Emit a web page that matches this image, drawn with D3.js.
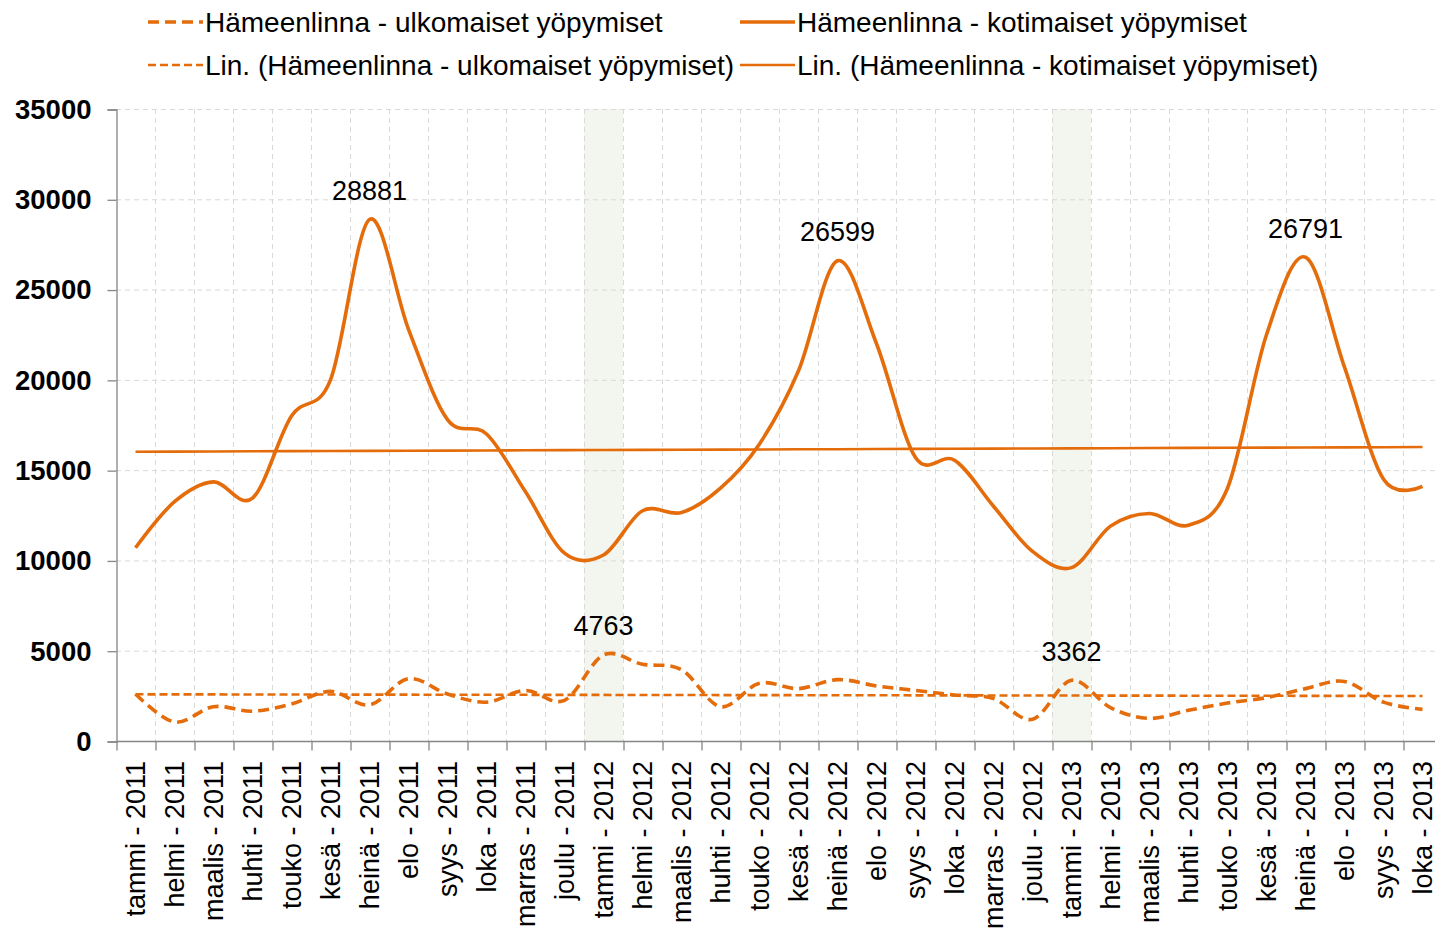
<!DOCTYPE html>
<html>
<head>
<meta charset="utf-8">
<script src="https://cdn.jsdelivr.net/npm/d3@7"></script>
<style>
  body { margin: 0; background: #fff; }
  text { font-family: "Liberation Sans", Arial, sans-serif; }
</style>
</head>
<body>
<section></section>
<script>
"use strict";

//Chart data
const months = ["tammi", "helmi", "maalis", "huhti", "touko", "kesä", "heinä", "elo", "syys", "loka", "marras", "joulu"];
const categories = [
  ...months.map((m) => `${m} - 2011`),
  ...months.map((m) => `${m} - 2012`),
  ...months.slice(0, 10).map((m) => `${m} - 2013`),
];
const domestic = [
  10700, 13250, 14350, 13450, 18000, 20000, 28881, 22800, 17800, 17000, 13800, 10400,
  10300, 12750, 12650, 14000, 16450, 20500, 26599, 22000, 15700, 15550, 13000, 10500,
  9600, 11900, 12600, 11950, 14000, 22500, 26791, 20700, 14500, 14100,
];
const foreign = [
  2600, 1050, 1900, 1650, 2050, 2750, 2000, 3450, 2600, 2150, 2800, 2250,
  4763, 4250, 3950, 1900, 3200, 2900, 3400, 3050, 2800, 2550, 2350, 1200,
  3362, 1850, 1250, 1700, 2100, 2400, 2900, 3300, 2150, 1750,
];
const labelDomestic = [6, 18, 30];
const labelForeign = [12, 24];
const shaded = [12, 24];
const yTicks = [0, 5000, 10000, 15000, 20000, 25000, 30000, 35000];
const legendNames = [
  "Hämeenlinna - ulkomaiset yöpymiset",
  "Hämeenlinna - kotimaiset yöpymiset",
  "Lin. (Hämeenlinna - ulkomaiset yöpymiset)",
  "Lin. (Hämeenlinna - kotimaiset yöpymiset)",
];

//Dimensions
const w = 1435;
const h = 933;
const color = "#E46C0A";
const plotLeft = 116;
const plotTop = 109;
const plotBottom = 741;
const band = 39.0;

const svg = d3.select("section").append("svg").attr("width", w).attr("height", h);
svg.append("rect").attr("width", w).attr("height", h).attr("fill", "#fff");

//Scales
const xScale = d3
  .scaleBand()
  .domain(categories)
  .range([plotLeft, plotLeft + band * categories.length])
  .padding(0);
const xEdge = d3.scaleLinear().domain([0, categories.length]).range([plotLeft, plotLeft + band * categories.length]);
const yScale = d3.scaleLinear().domain([0, 35000]).range([plotBottom, plotTop]);
const cx = (i) => xScale(categories[i]) + xScale.bandwidth() / 2;

//Shaded months
svg
  .append("g")
  .selectAll("rect")
  .data(shaded)
  .enter()
  .append("rect")
  .attr("x", (d) => xEdge(d))
  .attr("width", (d) => xEdge(d + 1) - xEdge(d))
  .attr("y", plotTop)
  .attr("height", plotBottom - plotTop)
  .attr("fill", "#f3f6ee");

//Grid lines
const grid = svg.append("g").attr("stroke", "#d9d9d9").attr("stroke-dasharray", "5,4").attr("stroke-width", 1);
grid
  .selectAll(".h")
  .data(yTicks.slice(1))
  .enter()
  .append("line")
  .attr("x1", plotLeft)
  .attr("x2", w)
  .attr("y1", (d) => yScale(d) + 0.5)
  .attr("y2", (d) => yScale(d) + 0.5);
grid
  .selectAll(".v")
  .data(d3.range(1, categories.length + 1))
  .enter()
  .append("line")
  .attr("x1", (d) => Math.round(xEdge(d)) + 0.5)
  .attr("x2", (d) => Math.round(xEdge(d)) + 0.5)
  .attr("y1", plotTop)
  .attr("y2", plotBottom);

//y Axis
const yAxisG = svg
  .append("g")
  .attr("transform", `translate(${plotLeft + 0.5}, 0.5)`)
  .call(d3.axisLeft(yScale).tickValues(yTicks).tickSize(9).tickPadding(16).tickFormat(d3.format("d")));
yAxisG.selectAll("line, path").attr("stroke", "#868686").attr("stroke-width", 1.3);
yAxisG
  .selectAll("text")
  .attr("font-size", 27.5)
  .attr("font-weight", "bold")
  .attr("fill", "#000")
  .attr("font-family", "Liberation Sans, Arial, sans-serif");

//x Axis boundary ticks
const xTickG = svg
  .append("g")
  .attr("transform", `translate(0.5, ${plotBottom + 0.5})`)
  .call(d3.axisBottom(xEdge).tickValues(d3.range(categories.length + 1)).tickSize(9).tickFormat(""));
xTickG.select(".domain").attr("d", `M${plotLeft},0H${w}`);
xTickG.selectAll("line, path").attr("stroke", "#868686").attr("stroke-width", 1.3);

//x Axis labels
svg
  .append("g")
  .selectAll("text")
  .data(categories)
  .enter()
  .append("text")
  .attr("transform", (d, i) => `translate(${cx(i)}, 761) rotate(-90)`)
  .attr("text-anchor", "end")
  .attr("dy", "0.35em")
  .attr("font-size", 27)
  .attr("fill", "#000")
  .text((d) => d);

//Linear trend (least squares on category numbers)
const trend = (values) => {
  const xs = values.map((d, i) => i + 1);
  const mx = d3.mean(xs);
  const my = d3.mean(values);
  const b = d3.sum(xs, (x, i) => (x - mx) * (values[i] - my)) / d3.sum(xs, (x) => (x - mx) ** 2);
  const a = my - b * mx;
  return values.map((d, i) => a + b * (i + 1));
};

const smooth = d3
  .line()
  .x((d, i) => cx(i))
  .y((d) => yScale(d))
  .curve(d3.curveCardinal.tension(0));
const straight = d3
  .line()
  .x((d, i) => cx(i))
  .y((d) => yScale(d));

const lines = svg.append("g").attr("fill", "none").attr("stroke", color).attr("stroke-linecap", "butt");
lines.append("path").attr("d", straight(trend(foreign))).attr("stroke-width", 2.6).attr("stroke-dasharray", "8,4");
lines.append("path").attr("d", straight(trend(domestic))).attr("stroke-width", 2.6);
lines.append("path").attr("d", smooth(foreign)).attr("stroke-width", 3.6).attr("stroke-dasharray", "11,6");
lines.append("path").attr("d", smooth(domestic)).attr("stroke-width", 3.6);

//Data labels
const labels = [
  ...labelDomestic.map((i) => ({ i, v: domestic[i] })),
  ...labelForeign.map((i) => ({ i, v: foreign[i] })),
];
svg
  .append("g")
  .selectAll("text")
  .data(labels)
  .enter()
  .append("text")
  .attr("x", (d) => cx(d.i))
  .attr("y", (d) => yScale(d.v) - 29)
  .attr("dy", "0.35em")
  .attr("text-anchor", "middle")
  .attr("font-size", 27)
  .attr("fill", "#000")
  .text((d) => d.v);

//Legend
const legend = svg.append("g");
const legendItems = [
  { x: 148, y: 22, width: 3.6, dash: "11,6" },
  { x: 740, y: 22, width: 3.6, dash: null },
  { x: 148, y: 65, width: 2.6, dash: "8,4" },
  { x: 740, y: 65, width: 2.6, dash: null },
];
legendItems.forEach((item, k) => {
  legend
    .append("line")
    .attr("x1", item.x)
    .attr("x2", item.x + 55)
    .attr("y1", item.y)
    .attr("y2", item.y)
    .attr("stroke", color)
    .attr("stroke-width", item.width)
    .attr("stroke-dasharray", item.dash);
  legend
    .append("text")
    .attr("x", item.x + 57)
    .attr("y", item.y)
    .attr("dy", "0.35em")
    .attr("font-size", 28)
    .attr("fill", "#000")
    .text(legendNames[k]);
});
</script>
</body>
</html>
